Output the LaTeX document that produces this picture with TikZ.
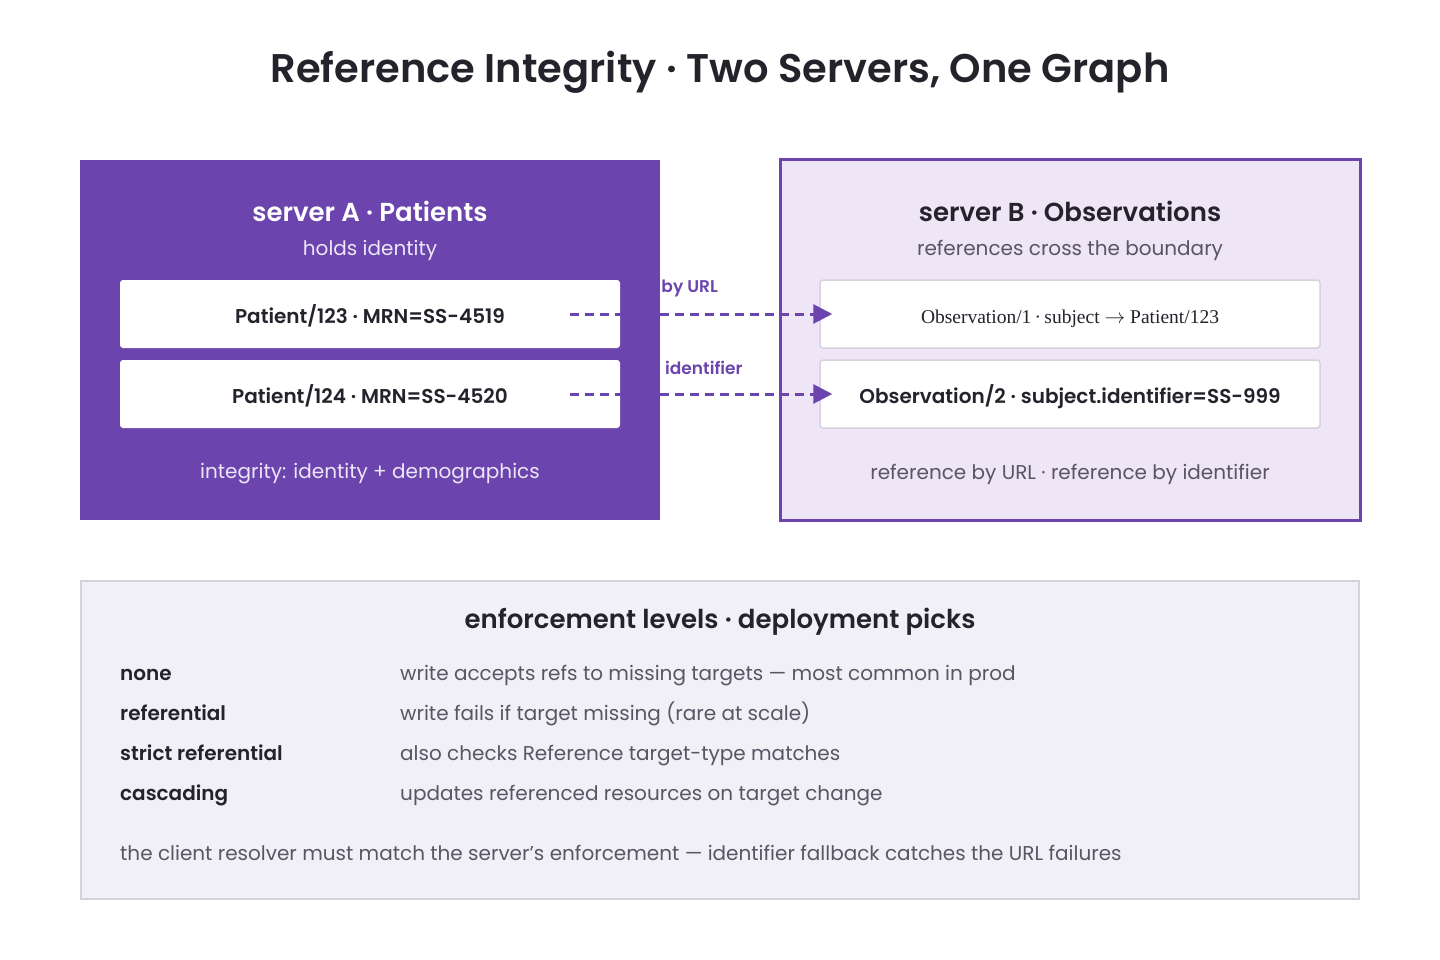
\documentclass[tikz,border=0pt]{standalone}
\usepackage{fontspec}
\setmainfont{Poppins}[BoldFont={Poppins SemiBold}]
\newfontfamily\obsfont{Liberation Serif}
\usetikzlibrary{arrows.meta}

\definecolor{plum}{HTML}{6B44AE}
\definecolor{lilac}{HTML}{EEE5F7}
\definecolor{ink}{HTML}{24232C}
\definecolor{slate}{HTML}{585664}
\definecolor{paper}{HTML}{F1F0F6}
\definecolor{rim}{HTML}{D6D3DE}
\definecolor{soft}{HTML}{ECE6F7}

\newcommand\pxsize[1]{\fontsize{#1}{#1}\selectfont}

\tikzset{
  txt/.style={inner sep=0pt},
  card/.style={fill=white, text=ink, rounded corners=3pt, minimum width=500, minimum height=68, inner sep=0pt, text height=20pt, text depth=1pt},
  ref/.style={plum, line width=3pt, dash pattern=on 9pt off 6pt, -{Triangle[length=19pt,width=19pt]}},
  lbl/.style={txt, text=plum, font=\pxsize{17}\bfseries}
}

\begin{document}
\begin{tikzpicture}[x=1pt,y=-1pt]
\useasboundingbox[fill=white] (0,0) rectangle (1440,960);

\node[txt, text=ink, font=\pxsize{40}\bfseries] (title) at (720,72) {Reference Integrity · Two Servers, One Graph};

% server A
\node[fill=plum, minimum width=580, minimum height=360, inner sep=0pt] (srvA) at (370,340) {};
\node[txt, text=white, font=\pxsize{26}\bfseries] (srvAhead) at (370,211) {server A · Patients};
\node[txt, text=soft, font=\pxsize{20}] (srvAsub) at (370,250) {holds identity};
\node[card, font=\pxsize{20}\bfseries] (pa) at (370,314) {Patient/123 · MRN=SS-4519};
\node[card, font=\pxsize{20}\bfseries] (pb) at (370,394) {Patient/124 · MRN=SS-4520};
\node[txt, text=soft, font=\pxsize{20}] (srvAfoot) at (370,474) {integrity: identity + demographics};

% server B
\node[fill=lilac, draw=plum, line width=3pt, minimum width=580, minimum height=360, inner sep=0pt] (srvB) at (1070,340) {};
\node[txt, text=ink, font=\pxsize{26}\bfseries] (srvBhead) at (1070,211) {server B · Observations};
\node[txt, text=slate, font=\pxsize{20}] (srvBsub) at (1070,250) {references cross the boundary};
\node[card, draw=rim, line width=1.5pt, font=\obsfont\pxsize{19.5}] (oa) at (1070,314) {Observation/1\,·\,subject $\rightarrow$ Patient/123};
\node[card, draw=rim, line width=1.5pt, font=\pxsize{20}\bfseries] (ob) at (1070,394) {Observation/2 · subject.identifier=SS-999};
\node[txt, text=slate, font=\pxsize{20}] (srvBfoot) at (1070,474) {reference by URL · reference by identifier};

\draw[ref] ([xshift=-50pt]pa.east) -- ([xshift=13pt]oa.west) node[lbl, pos=0.456, yshift=26pt] {by URL};
\draw[ref] ([xshift=-50pt]pb.east) -- ([xshift=13pt]ob.west) node[lbl, pos=0.51, yshift=26pt] {identifier};

% enforcement levels
\node[fill=paper, draw=rim, line width=2pt, minimum width=1278, minimum height=318, inner sep=0pt] (levels) at (720,740) {};
\node[txt, text=ink, font=\pxsize{26}\bfseries] (levelshead) at (720,622) {enforcement levels · deployment picks};
\foreach \name/\desc [count=\i] in {none/write accepts refs to missing targets — most common in prod,
    referential/write fails if target missing (rare at scale),
    strict referential/also checks Reference target-type matches,
    cascading/updates referenced resources on target change} {
  \node[txt, anchor=base west, text=ink, font=\pxsize{20}\bfseries] (lvl\i) at (120,640+40*\i) {\name};
  \node[txt, anchor=base west, text=slate, font=\pxsize{20}] (lvldesc\i) at (400,640+40*\i) {\desc};
}
\node[txt, anchor=base west, text=slate, font=\pxsize{20}] (note) at (120,860) {the client resolver must match the server's enforcement — identifier fallback catches the URL failures};
\end{tikzpicture}
\end{document}
